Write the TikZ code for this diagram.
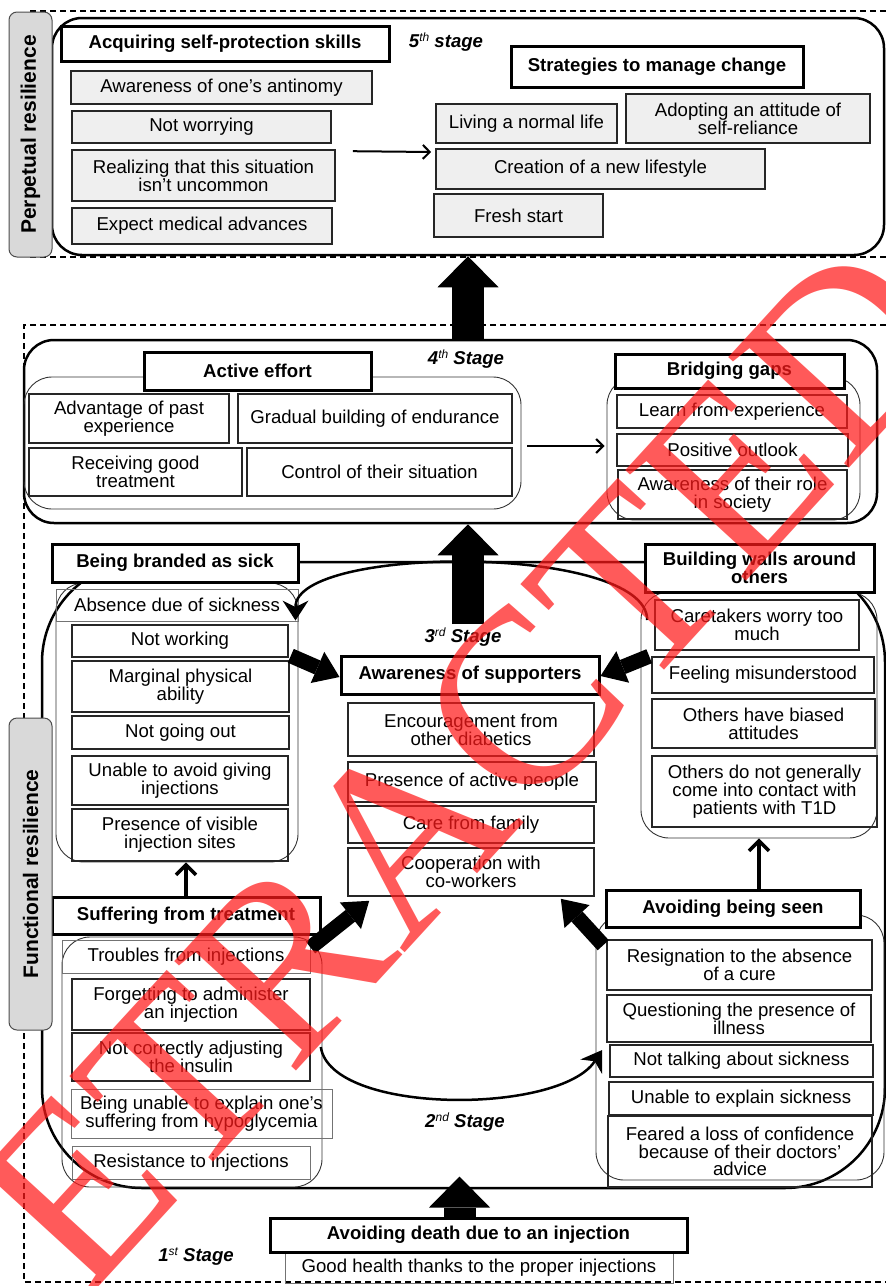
\documentclass[tikz,border=0pt]{standalone}
\usepackage{fontspec}
\setmainfont{Liberation Sans}
\newfontfamily\wmfont{Liberation Serif}
\usetikzlibrary{arrows.meta,calc}
\definecolor{boxgrey}{HTML}{EFEFEF}
\definecolor{labgrey}{HTML}{D9D9D9}
\definecolor{wmred}{HTML}{FF1A1A}

\begin{document}
\begin{tikzpicture}[x=1pt,y=-1pt,
  every node/.style={font=\fontsize{18.6}{17.8}\selectfont},
  head node/.style={draw,line width=3pt,fill=white,align=center,inner sep=0pt,font=\fontsize{18.6}{17.8}\selectfont\bfseries},
  item node/.style={draw=black!85,line width=1.6pt,align=center,inner sep=0pt},
  grey node/.style={item node,fill=boxgrey},
  light node/.style={draw=black!55,line width=1pt,align=center,inner sep=0pt},
  group node/.style={draw=black!80,line width=0.9pt,rounded corners=28pt,inner sep=0pt},
  stage node/.style={draw,line width=2.5pt,rounded corners=30pt,inner sep=0pt},
  side node/.style={draw=black!70,fill=labgrey,line width=1pt,rounded corners=8pt,rotate=90,inner sep=0pt,font=\fontsize{21}{22}\selectfont\bfseries},
  stage label/.style={font=\fontsize{18.6}{20}\selectfont\bfseries\itshape},
  frame line/.style={line width=1.2pt,dash pattern=on 6pt off 4pt},
  block arrow/.style={line width=32pt,-{Triangle[length=31pt,width=61pt,line width=0pt]}},
  small block/.style={line width=15pt,-{Triangle[length=24pt,width=34pt,line width=0pt]}},
  thin arrow/.style={line width=2pt,-{Straight Barb[length=7pt,width=14pt]}},
  up arrow/.style={line width=3.5pt,-{Straight Barb[length=10pt,width=20pt]}},
  arc arrow/.style={line width=2.5pt,-{Stealth[length=20pt,width=26pt,line width=0pt]}}]

  \useasboundingbox (0,0) rectangle (886,1286);

  \draw[frame line] (30,11) -- (886,11) (30,257) -- (886,257);
  \draw[frame line] (886,325) -- (24,325) -- (24,1282) -- (886,1282);

  % 5th stage
  \node[stage node,minimum width=832,minimum height=237] (s5) at (468,136.5) {};
  \node[head node,minimum width=328,minimum height=35] (acq) at (225,43.5) {Acquiring self-protection skills};
  \node[stage label] (lab5) at (446,42) {5\raisebox{6pt}{\fontsize{12}{12}\selectfont\mdseries th} stage};
  \node[grey node,minimum width=301,minimum height=33] (anti) at (221.5,87.5) {Awareness of one's antinomy};
  \node[grey node,minimum width=259,minimum height=32] (worry) at (201.5,127) {Not worrying};
  \node[grey node,minimum width=263,minimum height=51] (uncom) at (203.5,175.5) {Realizing that this situation\\isn't uncommon};
  \node[grey node,minimum width=260,minimum height=36] (medic) at (202,226) {Expect medical advances};
  \node[head node,minimum width=292,minimum height=41] (strat) at (657,66.5) {Strategies to manage change};
  \node[grey node,minimum width=181,minimum height=39] (normal) at (526.5,123.5) {Living a normal life};
  \node[grey node,minimum width=244,minimum height=49] (reliance) at (748,118.5) {Adopting an attitude of\\self-reliance};
  \node[grey node,minimum width=329,minimum height=40] (lifestyle) at (600.5,169) {Creation of a new lifestyle};
  \node[grey node,minimum width=169,minimum height=43] (fresh) at (518.5,215.5) {Fresh start};

  % 4th stage
  \node[stage node,minimum width=853,minimum height=183] (s4) at (450.5,431.5) {};
  \node[group node,minimum width=497,minimum height=132] (effort) at (272.5,443) {};
  \node[group node,minimum width=253,minimum height=143] (gaps) at (733.5,448.5) {};
  \node[stage label] (lab4) at (466,359) {4\raisebox{6pt}{\fontsize{12}{12}\selectfont\mdseries th} Stage};
  \node[head node,minimum width=227,minimum height=38] (active) at (257.5,371) {Active effort};
  \node[item node,minimum width=200,minimum height=49] (past) at (129,418.5) {Advantage of past\\experience};
  \node[item node,minimum width=274,minimum height=49] (endur) at (375,418.5) {Gradual building of endurance};
  \node[item node,minimum width=213,minimum height=48] (treat) at (135.5,472) {Receiving good\\treatment};
  \node[item node,minimum width=265,minimum height=48] (control) at (379.5,472) {Control of their situation};
  \node[head node,minimum width=229,minimum height=34] (bridge) at (729.5,371) {Bridging gaps};
  \node[item node,minimum width=230,minimum height=33] (learn) at (732,411.5) {Learn from experience};
  \node[item node,minimum width=231,minimum height=32] (posit) at (732.5,450) {Positive outlook};
  \node[item node,minimum width=229,minimum height=49] (role) at (732.5,494.5) {Awareness of their role\\in society};

  % 3rd and 2nd stage
  \node[stage node,rounded corners=100pt,minimum width=843,minimum height=626] (s23) at (463.5,875) {};
  \node[group node,minimum width=242,minimum height=279] (branded) at (177,722.5) {};
  \node[group node,minimum width=236,minimum height=246] (walls) at (759,715) {};
  \node[group node,minimum width=260,minimum height=250] (suffer) at (192,1062) {};
  \node[group node,minimum width=288,minimum height=265] (seen) at (740,1047.5) {};

  \node[light node,minimum width=242,minimum height=32] (absn) at (177,605) {Absence due of sickness};
  \node[item node,minimum width=216,minimum height=32] (notw) at (180,641) {Not working};
  \node[item node,minimum width=217,minimum height=51] (marg) at (180.5,686.5) {Marginal physical\\ability};
  \node[item node,minimum width=217,minimum height=33] (notout) at (180.5,732.5) {Not going out};
  \node[item node,minimum width=216,minimum height=49] (avoid) at (180,780.5) {Unable to avoid giving\\injections};
  \node[item node,minimum width=216,minimum height=52] (sites) at (180,835) {Presence of visible\\injection sites};

  \node[item node,minimum width=204,minimum height=50] (care) at (757,625) {Caretakers worry too\\much};
  \node[item node,minimum width=222,minimum height=36] (feel) at (763,675) {Feeling misunderstood};
  \node[item node,minimum width=223,minimum height=49] (bias) at (763.5,723.5) {Others have biased\\attitudes};
  \node[item node,minimum width=225,minimum height=71] (contact) at (764.5,791.5) {Others do not generally\\come into contact with\\patients with T1D};

  \node[item node,minimum width=246,minimum height=53] (encour) at (471,729.5) {Encouragement from\\other diabetics};
  \node[item node,minimum width=248,minimum height=40] (people) at (472,782) {Presence of active people};
  \node[item node,minimum width=246,minimum height=37] (family) at (471,824.5) {Care from family};
  \node[item node,minimum width=246,minimum height=48] (coop) at (471,872) {Cooperation with\\co-workers};

  \node[light node,minimum width=248,minimum height=33] (troub) at (186,956.5) {Troubles from injections};
  \node[item node,minimum width=238,minimum height=51] (forget) at (191,1004.5) {Forgetting to administer\\an injection};
  \node[item node,minimum width=238,minimum height=48] (adj) at (191,1057) {Not correctly adjusting\\the insulin};
  \node[light node,minimum width=261,minimum height=49] (hypo) at (201.5,1113.5) {Being unable to explain one's\\suffering from hypoglycemia};
  \node[light node,minimum width=238,minimum height=33] (resist) at (191,1162.5) {Resistance to injections};

  \node[item node,minimum width=265,minimum height=50] (resig) at (739.5,965) {Resignation to the absence\\of a cure};
  \node[item node,minimum width=264,minimum height=47] (quest) at (739,1018.5) {Questioning the presence of\\illness};
  \node[item node,minimum width=263,minimum height=32] (ntalk) at (741.5,1061) {Not talking about sickness};
  \node[item node,minimum width=264,minimum height=33] (unexp) at (741,1098.5) {Unable to explain sickness};
  \node[item node,minimum width=264,minimum height=71] (feared) at (740,1151.5) {Feared a loss of confidence\\because of their doctors'\\advice};

  \node[head node,minimum width=246,minimum height=38] (hbrand) at (175,563) {Being branded as sick};
  \node[head node,minimum width=229,minimum height=48] (hwalls) at (759.5,568) {Building walls around\\others};
  \node[head node,minimum width=258,minimum height=38] (hsupp) at (470,675) {Awareness of supporters};
  \node[head node,minimum width=268,minimum height=37] (hsuffer) at (186,915.5) {Suffering from treatment};
  \node[head node,minimum width=254,minimum height=37] (hseen) at (733,908.5) {Avoiding being seen};

  \node[stage label] (lab3) at (463,637) {3\raisebox{6pt}{\fontsize{12}{12}\selectfont\mdseries rd} Stage};
  \node[stage label] (lab2) at (465,1122) {2\raisebox{6pt}{\fontsize{12}{12}\selectfont\mdseries nd} Stage};

  % 1st stage
  \node[light node,minimum width=388,minimum height=31] (good) at (479,1267.5) {Good health thanks to the proper injections};
  \node[head node,minimum width=417,minimum height=34] (hdeath) at (478.5,1235) {Avoiding death due to an injection};
  \node[stage label] (lab1) at (196,1257) {1\raisebox{6pt}{\fontsize{12}{12}\selectfont\mdseries st} Stage};

  % connectors
  \draw[thin arrow] ($(uncom.north east)+(17,2)$) -- ($(lifestyle.west)+(-4,-17)$);
  \draw[thin arrow] ($(effort.east)+(6,3)$) -- ($(gaps.west)+(-2,-2.5)$);
  \draw[block arrow] (s5.south |- s4.north) -- (s5.south);
  \draw[block arrow] ($(lab3.north)+(5,0)$) -- (s4.south -| s5.south);
  \draw[block arrow] ($(hdeath.north)+(-19,0)$) -- ($(hdeath.north)+(-19,-40)$);
  \draw[small block] ($(notw.south east)+(2,-2)$) -- ($(hsupp.west)+(0,2)$);
  \draw[small block] ($(feel.north west)+(-2,0)$) -- ($(hsupp.east)+(0,1)$);
  \draw[small block] ($(troub.north east)+(0,8)$) -- ($(coop.south west)+(22,4)$);
  \draw[small block] ($(resig.north west)+(-3,6)$) -- ($(coop.south east)+(-34,2)$);
  \draw[up arrow] (hsuffer.north) -- (hsuffer.north |- branded.south);
  \draw[up arrow] (walls.south |- hseen.north) -- (walls.south);
  \draw[arc arrow] ($(care.west)+(-7,-5)$) .. controls +(0,-76) and +(0,-76) .. ($(absn.south east)+(-3,-1)$);
  \draw[arc arrow] ($(adj.east)+(10,-10)$) .. controls +(10,68) and +(-43,65) .. ($(ntalk.west)+(-7,-11)$);

  \node[side node,minimum width=245,minimum height=43] (perp) at (30.5,134.5) {Perpetual resilience};
  \node[side node,minimum width=312,minimum height=43] (func) at (30.5,874) {Functional resilience};

  \node[text=wmred,opacity=0.72,rotate=47.5,font=\wmfont\fontsize{250}{250}\selectfont] (wm) at (409,828) {RETRACTED};
\end{tikzpicture}
\end{document}
